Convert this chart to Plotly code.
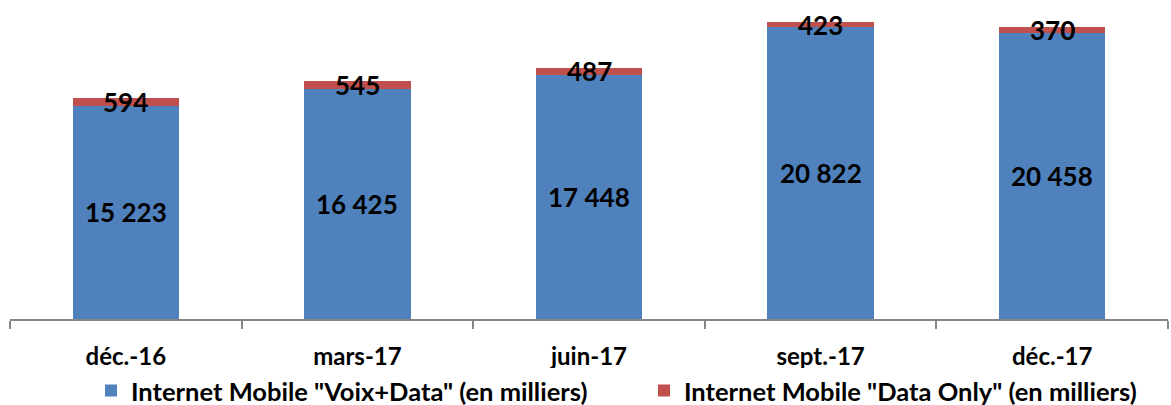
import plotly.graph_objects as go

categories = ["déc.-16", "mars-17", "juin-17", "sept.-17", "déc.-17"]
voix_data = [15223, 16425, 17448, 20822, 20458]
data_only = [594, 545, 487, 423, 370]
series_names = ['Internet Mobile "Voix+Data" (en milliers)', 'Internet Mobile "Data Only" (en milliers)']

def fmt(v):
    return f"{v:,}".replace(",", " ")

BLUE = "#4F81BD"
RED = "#C0504D"
FONT = "Lato"

fig = go.Figure()
fig.add_trace(go.Bar(x=categories, y=voix_data, name=f"<b>{series_names[0]}</b>",
                     marker=dict(color=BLUE, line=dict(width=0)), width=0.46))
fig.add_trace(go.Bar(x=categories, y=data_only, name=f"<b>{series_names[1]}</b>",
                     marker=dict(color=RED, line=dict(width=0)), width=0.46))

annotations = []
for c, b, r in zip(categories, voix_data, data_only):
    annotations.append(dict(x=c, y=b / 2, text=f"<b>{fmt(b)}</b>", showarrow=False,
                            font=dict(family=FONT, size=26, color="black"), yanchor="middle"))
    annotations.append(dict(x=c, y=b + r / 2, text=f"<b>{fmt(r)}</b>", showarrow=False,
                            font=dict(family=FONT, size=26, color="black"), yanchor="middle"))

fig.update_layout(
    barmode="stack",
    width=1171, height=405,
    margin=dict(l=10, r=3, t=11, b=86, autoexpand=False),
    plot_bgcolor="white", paper_bgcolor="white",
    font=dict(family=FONT, size=20, color="black"),
    annotations=annotations,
    showlegend=True,
    legend=dict(orientation="h", x=91 / 1171, xanchor="left", xref="container",
                y=(405 - 391) / 405, yanchor="middle", yref="container",
                font=dict(family=FONT, size=25.5, color="black"), traceorder="normal",
                entrywidth=508, entrywidthmode="pixels"),
    xaxis=dict(showline=True, linecolor="#868686", linewidth=1.5, ticks="outside",
               tickson="boundaries", ticklen=8, tickcolor="#868686", tickwidth=1.5,
               tickfont=dict(family=FONT, size=24, color="black"), showgrid=False,
               tickprefix="<b>", ticksuffix="</b>", automargin=False,
               ticklabelstandoff=15),
    yaxis=dict(range=[0, 22000], visible=False, showgrid=False, automargin=False),
)

fig.write_html("out.html", post_script="document.body.style.margin='0';",
               config={"displayModeBar": False})
